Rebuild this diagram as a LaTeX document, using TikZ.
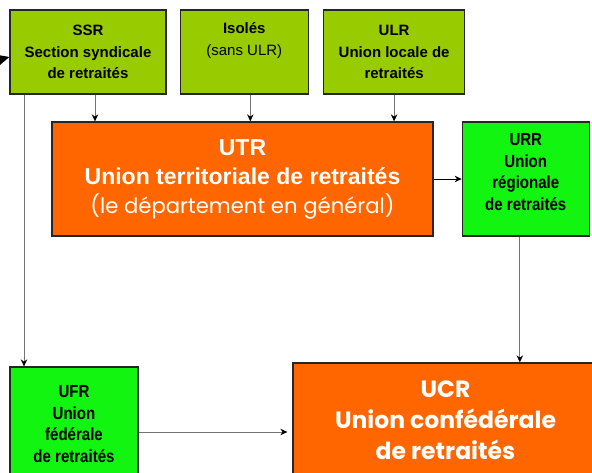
\documentclass[tikz,border=0pt]{standalone}
\usepackage{fontspec}
\setmainfont{Liberation Sans}
\newfontfamily\narrowfont{Liberation Sans}[FakeStretch=0.86]
\newfontfamily\roundfont{Poppins}
\usetikzlibrary{shapes,arrows,arrows.meta,positioning}
\definecolor{localgreen}{HTML}{99CC00}
\definecolor{unionorange}{HTML}{FF6600}
\definecolor{flashgreen}{HTML}{11F511}
\tikzstyle{local} = [rectangle, minimum height=84pt, text centered, align=center, draw=black!85, line width=1.3pt, fill=localgreen, font=\fontsize{15}{21.5}\selectfont\bfseries]
\tikzstyle{union} = [rectangle, text centered, align=center, draw=black!85, line width=1.3pt, fill=unionorange, text=white, font=\bfseries]
\tikzstyle{level} = [rectangle, minimum width=127pt, minimum height=114pt, text centered, align=center, draw=black!85, line width=1.3pt, fill=flashgreen, font=\fontsize{17.5}{21.5}\selectfont\narrowfont\bfseries]
\tikzstyle{arrow} = [-{Stealth[length=7pt,width=6.5pt,color=black]}, draw=black!55, line width=0.9pt]

\begin{document}
\begin{tikzpicture}[x=1pt,y=-1pt]
\useasboundingbox (0,0) rectangle (592,473);
\clip (0,0) rectangle (592,473);
\node (ssr) [local, minimum width=156pt] at (88,52) {SSR\\Section syndicale\\de retraités};
\node (isoles) [local, minimum width=128pt, right=13pt of ssr] {Isolés\\{\mdseries(sans ULR)}\\[4pt]};
\node (ulr) [local, minimum width=141pt, right=14pt of isoles] {ULR\\Union locale de\\retraités};
\node (utr) [union, minimum width=381pt, minimum height=114pt, font=\fontsize{23}{29}\selectfont\bfseries] at (242.5,179) {UTR\\Union territoriale de retraités\\{\roundfont\mdseries\fontsize{21.2}{29}\selectfont(le département en général)}};
\node (urr) [level, text depth=14pt, right=28pt of utr] {URR\\Union\\régionale\\de retraités};
\node (ufr) [level, minimum width=128pt] at (74,424) {UFR\\Union\\fédérale\\de retraités};
\node (ucr) [union, minimum width=305pt, minimum height=114pt, font=\fontsize{23.5}{31}\selectfont\roundfont\bfseries] at (445.5,420) {UCR\\Union confédérale\\de retraités};
\coordinate (inlet) at (-20,65);

\draw [-{Stealth[length=17pt,width=16pt]}, line width=1.3pt, black] (inlet) -- ([yshift=-5pt]ssr.west);
\draw [arrow] ([xshift=7pt]ssr.south) -- ([xshift=7pt]ssr.south |- utr.north);
\draw [arrow] ([xshift=6pt]isoles.south) -- ([xshift=6pt]isoles.south |- utr.north);
\draw [arrow] (ulr.south) -- (ulr.south |- utr.north);
\draw [arrow, draw=black] (utr) -- (urr);
\draw [arrow] ([xshift=-6pt]urr.south) -- ([xshift=-6pt]urr.south |- ucr.north);
\draw [arrow] ([xshift=-64pt]ssr.south) -- ([xshift=-64pt]ssr.south |- ufr.north);
\draw [arrow, shorten >=5pt] ([yshift=-8pt]ufr.east) -- ([yshift=-8pt]ufr.east -| ucr.west);
\end{tikzpicture}
\end{document}
